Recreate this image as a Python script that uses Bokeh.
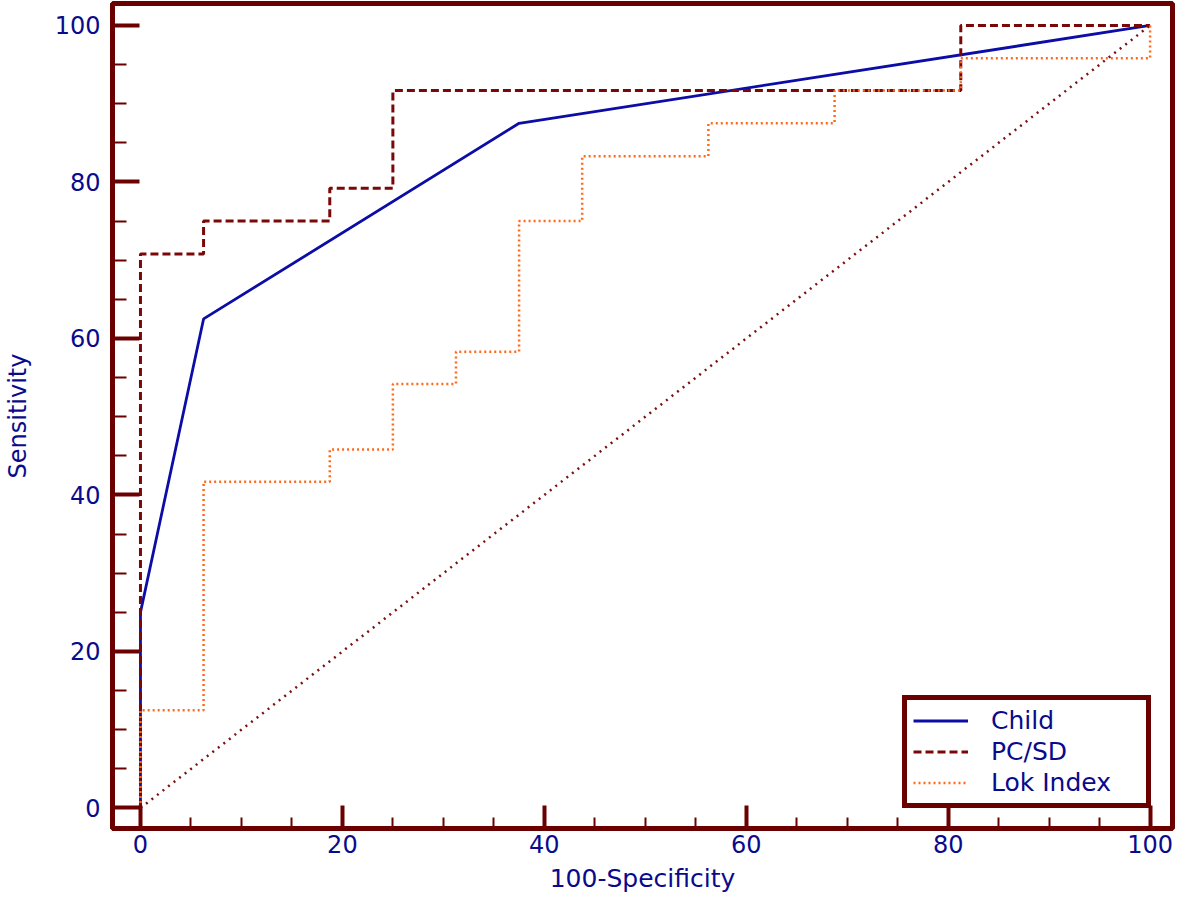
from bokeh.plotting import figure
from bokeh.models import Range1d, SingleIntervalTicker
from bokeh.embed import file_html
from bokeh.resources import INLINE

# ROC data (100-Specificity, Sensitivity)
child_x = [0, 0, 6.25, 37.5, 100]
child_y = [0, 25.0, 62.5, 87.5, 100]

pcsd_x = [0, 0, 6.25, 6.25, 18.75, 18.75, 25, 25, 81.25, 81.25, 100]
pcsd_y = [0, 70.8, 70.8, 75.0, 75.0, 79.2, 79.2, 91.7, 91.7, 100, 100]

lok_x = [0, 0, 6.25, 6.25, 18.75, 18.75, 25, 25, 31.25, 31.25, 37.5, 37.5,
         43.75, 43.75, 56.25, 56.25, 68.75, 68.75, 81.25, 81.25, 100, 100]
lok_y = [0, 12.5, 12.5, 41.7, 41.7, 45.8, 45.8, 54.2, 54.2, 58.3, 58.3, 75.0,
         75.0, 83.3, 83.3, 87.5, 87.5, 91.7, 91.7, 95.8, 95.8, 100]

diag_x = [0, 100]
diag_y = [0, 100]

series_names = ["Child", "PC/SD", "Lok Index"]

AXIS = "#6b0000"
TXT = "#0a0a8c"
FONT = "DejaVu Sans"

p = figure(width=1179, height=900, output_backend="svg", toolbar_location=None,
           x_range=Range1d(-2.77, 102.22), y_range=Range1d(-2.62, 102.81),
           min_border_left=110, min_border_right=7, min_border_top=3, min_border_bottom=72,
           background_fill_color="white", border_fill_color="white")

p.grid.visible = False
p.outline_line_color = AXIS
p.outline_line_width = 5

p.line(child_x, child_y, line_color="#0c0ca6", line_width=2.8, legend_label=series_names[0])
p.line(pcsd_x, pcsd_y, line_color="#7a0808", line_width=3, line_dash="8 4", legend_label=series_names[1])
p.line(lok_x, lok_y, line_color="#ff6a1a", line_width=2.5, line_dash="2 3", legend_label=series_names[2])
p.line(diag_x, diag_y, line_color="#7a1010", line_width=2.5, line_dash="2 5")

for ax in (p.xaxis[0], p.yaxis[0]):
    ax.ticker = SingleIntervalTicker(interval=20, num_minor_ticks=4)
    ax.axis_line_color = AXIS
    ax.axis_line_width = 5
    ax.major_tick_line_color = AXIS
    ax.major_tick_line_width = 4
    ax.minor_tick_line_color = AXIS
    ax.minor_tick_line_width = 2
    ax.major_tick_out = 0
    ax.minor_tick_out = 0
    ax.major_label_text_font = FONT
    ax.major_label_text_font_size = "24px"
    ax.major_label_text_color = TXT
    ax.axis_label_text_font = FONT
    ax.axis_label_text_font_size = "25px"
    ax.axis_label_text_font_style = "normal"
    ax.axis_label_text_color = TXT

p.xaxis.axis_label = "100-Specificity"
p.yaxis.axis_label = "Sensitivity"
p.yaxis.axis_label_text_font_size = "24px"
p.xaxis.major_tick_in = 23
p.xaxis.minor_tick_in = 11
p.yaxis.major_tick_in = 27
p.yaxis.minor_tick_in = 14
p.xaxis.major_label_standoff = 6
p.xaxis.axis_label_standoff = 8
p.yaxis.major_label_standoff = 12
p.yaxis.axis_label_standoff = 20

lg = p.legend[0]
lg.location = (790, 20)
lg.margin = 0
lg.padding = 6
lg.spacing = 2
lg.glyph_width = 55
lg.glyph_height = 29
lg.label_height = 29
lg.label_width = 149
lg.label_standoff = 23
lg.label_text_font = FONT
lg.label_text_font_size = "25px"
lg.label_text_color = TXT
lg.border_line_color = AXIS
lg.border_line_width = 5
lg.border_line_alpha = 1
lg.background_fill_color = "white"
lg.background_fill_alpha = 1

open("out.html", "w").write(file_html(p, INLINE))
